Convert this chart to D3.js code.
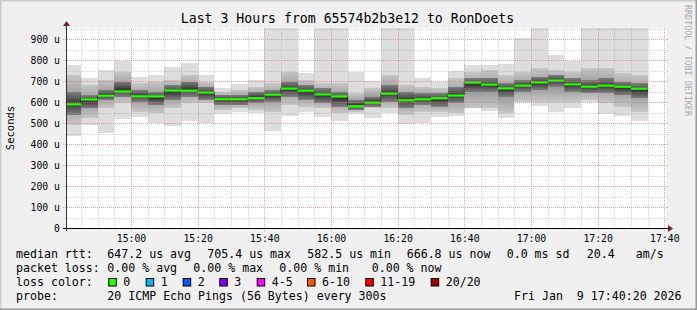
<!DOCTYPE html>
<html><head><meta charset="utf-8">
<script src="https://cdn.jsdelivr.net/npm/d3@7"></script>
<style>
body{margin:0;background:#f0f0f0}
svg{display:block}
text{font-family:"DejaVu Sans Mono",monospace;fill:#000}
</style>
</head><body>
<svg id="c" width="697" height="310"></svg>
<script>
// ---- data ----
const barTimes = ["14:40","14:45","14:50","14:55","15:00","15:05","15:10","15:15","15:20","15:25",
  "15:30","15:35","15:40","15:45","15:50","15:55","16:00","16:05","16:10","16:15",
  "16:20","16:25","16:30","16:35","16:40","16:45","16:50","16:55","17:00","17:05",
  "17:10","17:15","17:20","17:25","17:30"];
const medianRtt = [592,615,633,653,630,630,658,657,648,616,616,621,638,667,657,639,630,582.5,600,643,
  611,616,621,634,696,686,668,681,696,705.4,687,676,681,676,666.8];
const smokeMin = [440,491,451,519,527,498,487,510,498,541,551,546,462,535,551,530,511,541,525,546,
  494,498,530,535,570,557,525,598,583,551,570,598,541,535,510];
const smokeMax = [776,714,752,795,718,729,768,787,729,665,687,705,960,960,737,960,960,744,700,960,
  960,712,693,749,776,776,783,906,960,825,797,960,960,960,960];
const smokeMidHi = [729,681,705,744,689,697,705,729,697,649,657,673,689,744,705,689,689,641,665,729,
  681,673,665,713,744,752,729,744,760,752,744,760,760,737,729];
const smokeMidLo = [490,522,570,594,554,546,570,594,594,562,570,562,554,586,578,570,546,554,570,570,
  538,554,554,546,570,570,546,602,602,602,602,610,594,578,554];
const smokeDarkHi = [649,633,657,697,657,649,681,697,673,633,633,649,657,697,681,665,649,610,625,681,
  649,641,641,673,713,713,689,705,721,729,713,705,713,697,689];
const smokeDarkLo = [538,570,610,625,602,586,610,625,610,586,586,594,602,625,610,594,578,562,578,602,
  570,586,578,594,649,649,625,649,657,673,649,641,641,633,617];
const yTickValues = [0,100,200,300,400,500,600,700,800,900];
const yTickLabels = ["0","100 u","200 u","300 u","400 u","500 u","600 u","700 u","800 u","900 u"];
const xTickLabels = ["15:00","15:20","15:40","16:00","16:20","16:40","17:00","17:20","17:40"];
const rttStats = [["647.2","us avg"],["705.4","us max"],["582.5","us min"],["666.8","us now"],["0.0","ms sd"],["20.4",""],["am/s",""]];
const lossStats = [["0.00","% avg"],["0.00","% max"],["0.00","% min"],["0.00","% now"]];
const lossLabels = ["0","1","2","3","4-5","6-10","11-19","20/20"];
const lossColors = ["#26ff00","#00b8ff","#0059ff","#7e00ff","#ff00ff","#ff5500","#ff0000","#a10000"];
const titleText = "Last 3 Hours from 65574b2b3e12 to RonDoets";
const probeText = "20 ICMP Echo Pings (56 Bytes) every 300s";
const dateText = "Fri Jan  9 17:40:20 2026";

// ---- layout ----
const W = 697, H = 310;
const L = 67, R = 667, T = 28, B = 228;
const svg = d3.select("#c");
const day = (h, m, s=0) => new Date(2026, 0, 9, h, m, s);
const pt = s => { const [h, m] = s.split(":").map(Number); return day(h, m); };

const x = d3.scaleTime().domain([day(14,40,48), day(17,40,48)]).range([L, R]);
const y = d3.scaleLinear().domain([0, 200/0.21]).range([B, T]);

// background + bevel
svg.append("rect").attr("width", W).attr("height", H).attr("fill", "#f0f0f0");
svg.append("path").attr("d", `M0,${H} V0 H${W}`).attr("fill","none").attr("stroke","#cbcbcb").attr("stroke-width",3);
svg.append("path").attr("d", `M${W},0 V${H} H0`).attr("fill","none").attr("stroke","#999999").attr("stroke-width",3);
svg.append("rect").attr("x", L).attr("y", T).attr("width", R-L).attr("height", B-T).attr("fill", "#fff");

const defs = svg.append("defs");
defs.append("clipPath").attr("id","pc").append("rect")
  .attr("x", L).attr("y", T).attr("width", R-L).attr("height", B-T);
function grad(id, edge, mid, center) {
  const lg = defs.append("linearGradient").attr("id", id).attr("x1",0).attr("y1",0).attr("x2",0).attr("y2",1);
  [[0,edge],[0.3,mid],[0.5,center],[0.7,mid],[1,edge]].forEach(([o,c]) =>
    lg.append("stop").attr("offset", o).attr("stop-color", c));
}
grad("gMid", "#c6c6c6", "#aaaaaa", "#959595");
grad("gDark", "#7e7e7e", "#585858", "#353535");

const bars = barTimes.map((t, i) => ({
  t0: pt(t), t1: d3.timeMinute.offset(pt(t), 5),
  med: medianRtt[i], mn: smokeMin[i], mx: smokeMax[i],
  mh: smokeMidHi[i], ml: smokeMidLo[i], dh: smokeDarkHi[i], dl: smokeDarkLo[i]
}));

const g = svg.append("g").attr("clip-path", "url(#pc)");
function band(lo, hi, color) {
  g.append("g").selectAll("rect").data(bars).join("rect")
    .attr("x", d => x(d.t0)).attr("width", d => x(d.t1) - x(d.t0))
    .attr("y", d => y(d[hi])).attr("height", d => y(d[lo]) - y(d[hi]))
    .attr("fill", color).attr("shape-rendering","crispEdges");
}
band("mn", "mx", "#dddddd");
band("ml", "mh", "url(#gMid)");
band("dl", "dh", "url(#gDark)");

// median step line
const stepPts = bars.map(d => [x(d.t0), y(d.med)]);
stepPts.push([x(bars[bars.length-1].t1), y(bars[bars.length-1].med)]);
g.append("path").attr("d", d3.line().curve(d3.curveStepAfter)(stepPts))
  .attr("fill","none").attr("stroke","#202020").attr("stroke-width",1);
g.append("g").selectAll("rect").data(bars).join("rect")
  .attr("x", d => x(d.t0)).attr("width", d => x(d.t1) - x(d.t0))
  .attr("y", d => y(d.med) - 0.5).attr("height", 2.2)
  .attr("fill", lossColors[0]);

// grid (drawn over)
const grid = svg.append("g");
const minorX = x.ticks(d3.timeMinute.every(5)), majorX = x.ticks(d3.timeMinute.every(20));
const minorY = d3.range(50, 951, 50), majorY = yTickValues.filter(v => v > 0);
const minC = "rgba(150,150,150,0.38)", majC = "rgba(228,120,120,0.55)";
grid.selectAll(".mvx").data(minorX).join("line")
  .attr("x1", d => Math.round(x(d))+0.5).attr("x2", d => Math.round(x(d))+0.5).attr("y1", T).attr("y2", B+2)
  .attr("stroke",minC).attr("stroke-dasharray","1,1");
grid.selectAll(".mhy").data(minorY).join("line")
  .attr("x1", L-2).attr("x2", R+2).attr("y1", d => Math.round(y(d))+0.5).attr("y2", d => Math.round(y(d))+0.5)
  .attr("stroke",minC).attr("stroke-dasharray","1,1");
grid.selectAll(".Mvx").data(majorX).join("line")
  .attr("x1", d => Math.round(x(d))+0.5).attr("x2", d => Math.round(x(d))+0.5).attr("y1", T).attr("y2", B+3)
  .attr("stroke",majC).attr("stroke-dasharray","1,1");
grid.selectAll(".Mhy").data(majorY).join("line")
  .attr("x1", L-4).attr("x2", R+2).attr("y1", d => Math.round(y(d))+0.5).attr("y2", d => Math.round(y(d))+0.5)
  .attr("stroke",majC).attr("stroke-dasharray","1,1");

// axes lines + arrows
svg.append("line").attr("x1", L-4).attr("x2", R+2).attr("y1", B+0.5).attr("y2", B+0.5).attr("stroke","#000");
svg.append("line").attr("x1", L-0.5).attr("x2", L-0.5).attr("y1", B+3).attr("y2", T-4).attr("stroke","#333");
svg.append("path").attr("d", `M${R+1},${B-3} L${R+6},${B+0.5} L${R+1},${B+4} Z`).attr("fill","#7f1f1f");
svg.append("path").attr("d", `M${L-4},${T-2} L${L-0.5},${T-7} L${L+3},${T-2} Z`).attr("fill","#7f1f1f");

// axis labels
const ya = svg.append("g").attr("transform", `translate(${L},0)`)
  .call(d3.axisLeft(y).tickValues(yTickValues).tickFormat((d,i) => yTickLabels[i]).tickSize(0).tickPadding(7));
ya.select(".domain").remove();
ya.selectAll("text").attr("font-size","9.8px").attr("font-family","DejaVu Sans Mono").attr("fill","#000");
const xa = svg.append("g").attr("transform", `translate(0,${B})`)
  .call(d3.axisBottom(x).tickValues(xTickLabels.map(pt)).tickFormat(d3.timeFormat("%H:%M")).tickSize(0).tickPadding(7));
xa.select(".domain").remove();
xa.selectAll("text").attr("font-size","9.8px").attr("font-family","DejaVu Sans Mono").attr("fill","#000");

// title
svg.append("text").attr("x", 347.5).attr("y", 23).attr("text-anchor","middle")
  .attr("font-size","13.2px").text(titleText);
// y label
svg.append("text").attr("transform", `translate(14,${(T+B)/2}) rotate(-90)`).attr("text-anchor","middle")
  .attr("font-size","10.5px").text("Seconds");
// side credit
svg.append("text").attr("transform", `translate(684.5,5) rotate(90)`)
  .attr("font-size","8.4px").style("fill","#aaaaaa").text("RRDTOOL / TOBI OETIKER");

// legend
const lg = svg.append("g").attr("font-size","11.6px");
const put = (s, xx, yy) => lg.append("text").attr("x", xx).attr("y", yy).attr("xml:space","preserve").text(s);
const r1 = 258, r2 = 272, r3 = 286, r4 = 300;
put("median rtt:", 16, r1);
const rttX = [107.3, 207.3, 307.3, 406.7, 506.7, 586.7, 635.7];
rttStats.forEach((s, i) => put(s[1] ? s[0] + " " + s[1] : s[0], rttX[i], r1));
put("packet loss:", 16, r2);
const lossX = [107.3, 193.3, 279.3, 371.7];
lossStats.forEach((s, i) => put(s[0] + " " + s[1], lossX[i], r2));
put("loss color:", 16, r3);
const swX = [108.3, 145.7, 182.7, 219.3, 256.7, 307, 365.3, 430.7];
lossLabels.forEach((lab, i) => {
  lg.append("rect").attr("x", swX[i]+0.5).attr("y", 278.5).attr("width", 7.5).attr("height", 7.5)
    .attr("fill", lossColors[i]).attr("stroke","#000").attr("stroke-width",1);
  put(lab, swX[i] + 15, r3);
});
put("probe:", 16, r4);
put(probeText, 107.3, r4);
put(dateText, 514, r4);
</script>
</body></html>
